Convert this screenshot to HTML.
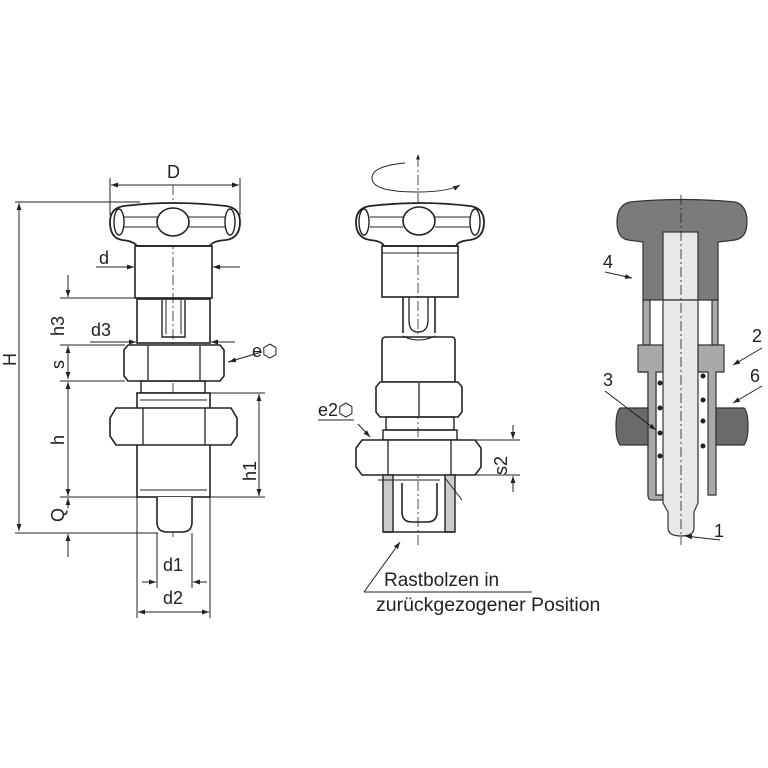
<!DOCTYPE html>
<html><head><meta charset="utf-8"><style>body{margin:0;background:#fff}svg{display:block}text{font-family:"Liberation Sans",sans-serif;fill:#222}</style></head><body>
<svg width="768" height="768" viewBox="0 0 768 768" xmlns="http://www.w3.org/2000/svg">
<defs>
<marker id="a" viewBox="0 0 10 10" refX="10" refY="5" markerWidth="7" markerHeight="7" orient="auto-start-reverse"><path d="M0,1.5 L10,5 L0,8.5 z" fill="#222"/></marker>
</defs>
<g stroke="#222" stroke-width="1" fill="none">
<line x1="173" y1="185" x2="173" y2="540" stroke-dasharray="10 3 2 3" stroke-width="0.8"/>
<line x1="110" y1="178" x2="110" y2="215"/><line x1="240" y1="178" x2="240" y2="215"/>
<line x1="111" y1="185" x2="239" y2="185" marker-start="url(#a)" marker-end="url(#a)"/>
<line x1="15" y1="202" x2="140" y2="202"/>
<line x1="19" y1="203" x2="19" y2="531" marker-start="url(#a)" marker-end="url(#a)"/>
<line x1="15" y1="533" x2="158" y2="533"/>
<path d="M124,206 Q173,200 226,206 Q240,208 240,222 Q240,238 226,240 Q212,241 210,246 L137,246 Q134,241 122,240 Q110,238 110,222 Q110,208 124,206 Z" stroke-width="1.8" fill="#fff"/>
<ellipse cx="173" cy="222" rx="16" ry="14" stroke-width="1.6"/>
<ellipse cx="119" cy="222" rx="5" ry="13" stroke-width="1.4"/><ellipse cx="230" cy="222" rx="5" ry="13" stroke-width="1.4"/>
<line x1="124" y1="217" x2="157" y2="217"/><line x1="189" y1="217" x2="225" y2="217"/>
<line x1="124" y1="227" x2="157" y2="227"/><line x1="189" y1="227" x2="225" y2="227"/>
<rect x="135" y="246" width="77" height="52" stroke-width="1.6"/>
<line x1="96" y1="267" x2="134" y2="267" marker-end="url(#a)"/><line x1="240" y1="267" x2="213" y2="267" marker-end="url(#a)"/>
<rect x="137" y="299" width="73" height="44" stroke-width="1.6"/>
<path d="M162,300 L162,337 L185,337 L185,300" stroke-width="1.4"/><line x1="166" y1="300" x2="166" y2="334"/><line x1="181" y1="300" x2="181" y2="334"/>
<line x1="60" y1="298" x2="137" y2="298"/>
<line x1="68" y1="275" x2="68" y2="297" marker-end="url(#a)"/>
<line x1="90" y1="342" x2="136" y2="342" marker-end="url(#a)"/><line x1="235" y1="342" x2="211" y2="342" marker-end="url(#a)"/>
<line x1="60" y1="345" x2="125" y2="345"/>
<line x1="68" y1="346" x2="68" y2="379" marker-start="url(#a)" marker-end="url(#a)"/>
<path d="M128,345 L220,345 L224,350 L224,376 L220,381 L128,381 L124,376 L124,350 Z" stroke-width="1.6" fill="#fff"/>
<line x1="148" y1="346" x2="148" y2="380" stroke-width="1.3"/><line x1="200" y1="346" x2="200" y2="380" stroke-width="1.3"/>
<line x1="60" y1="381" x2="125" y2="381"/>
<line x1="68" y1="382" x2="68" y2="496" marker-start="url(#a)" marker-end="url(#a)"/>
<line x1="228" y1="362" x2="262" y2="352"/><line x1="235" y1="360" x2="229" y2="362" marker-end="url(#a)"/>
<rect x="141" y="381" width="64" height="12" stroke-width="1.4"/>
<rect x="137" y="393" width="73" height="104" stroke-width="1.6" fill="#fff"/>
<line x1="140" y1="400" x2="207" y2="400"/><line x1="140" y1="490" x2="207" y2="490"/>
<path d="M116,408 L231,408 L237,418 L237,436 L231,445 L116,445 L110,436 L110,418 Z" stroke-width="1.6" fill="#fff"/>
<line x1="143" y1="408" x2="143" y2="445" stroke-width="1.3"/><line x1="205" y1="408" x2="205" y2="445" stroke-width="1.3"/>
<line x1="210" y1="393" x2="265" y2="393"/><line x1="210" y1="497" x2="265" y2="497"/>
<line x1="259" y1="394" x2="259" y2="496" marker-start="url(#a)" marker-end="url(#a)"/>
<line x1="60" y1="497" x2="137" y2="497"/>
<line x1="68" y1="508" x2="68" y2="498" marker-end="url(#a)"/><line x1="68" y1="557" x2="68" y2="534" marker-end="url(#a)"/>
<path d="M157,497 L157,522 Q157,532 167,532 L182,532 Q192,532 192,522 L192,497" stroke-width="1.6" fill="#fff"/>
<line x1="157" y1="533" x2="157" y2="588"/><line x1="192" y1="533" x2="192" y2="588"/>
<line x1="142" y1="582" x2="156" y2="582" marker-end="url(#a)"/><line x1="207" y1="582" x2="193" y2="582" marker-end="url(#a)"/>
<line x1="137" y1="497" x2="137" y2="618"/><line x1="210" y1="497" x2="210" y2="618"/>
<line x1="138" y1="612" x2="209" y2="612" marker-start="url(#a)" marker-end="url(#a)"/>

<line x1="418" y1="545" x2="418" y2="154" stroke-dasharray="10 3 2 3" stroke-width="0.8" marker-end="url(#a)"/>
<path d="M405,163 Q372,166 372,178 Q372,192 416,192 Q448,192 460,185" marker-end="url(#a)"/>
<path d="M370,206 Q420,200 470,206 Q484,208 484,222 Q484,238 470,240 Q458,241 456,246 L384,246 Q382,241 370,240 Q356,238 356,222 Q356,208 370,206 Z" stroke-width="1.8" fill="#fff"/>
<ellipse cx="419" cy="221" rx="16" ry="14" stroke-width="1.6"/>
<ellipse cx="364" cy="222" rx="5" ry="13" stroke-width="1.4"/><ellipse cx="475" cy="222" rx="5" ry="13" stroke-width="1.4"/>
<line x1="370" y1="217" x2="403" y2="217"/><line x1="435" y1="217" x2="470" y2="217"/>
<line x1="370" y1="227" x2="403" y2="227"/><line x1="435" y1="227" x2="470" y2="227"/>
<rect x="382" y="246" width="76" height="51" stroke-width="1.6"/>
<line x1="382" y1="253" x2="458" y2="253"/>
<path d="M403,297 L403,333 M435,297 L435,333" stroke-width="1.6"/>
<path d="M409,297 L409,320 Q409,332 418,332 Q428,332 428,320 L428,297" stroke-width="1.3"/>
<path d="M386,337 L452,337 Q455,337 455,341 L455,382 L382,382 L382,341 Q382,337 386,337 Z" stroke-width="1.6" fill="#fff"/>
<path d="M403,336 Q418,344 435,336"/>
<path d="M380,382 L458,382 L462,387 L462,412 L458,417 L380,417 L376,412 L376,387 Z" stroke-width="1.6" fill="#fff"/>
<line x1="419" y1="383" x2="419" y2="416" stroke-width="1.3"/>
<rect x="386" y="417" width="68" height="13" stroke-width="1.4"/>
<rect x="383" y="430" width="74" height="10" stroke-width="1.4"/>
<path d="M362,440 L475,440 L481,448 L481,467 L475,475 L362,475 L356,467 L356,448 Z" stroke-width="1.6" fill="#fff"/>
<line x1="388" y1="440" x2="388" y2="475" stroke-width="1.3"/><line x1="451" y1="440" x2="451" y2="475" stroke-width="1.3"/>
<rect x="383" y="475" width="10" height="57" fill="#ccc" stroke-width="1.4"/>
<rect x="445" y="475" width="10" height="57" fill="#ccc" stroke-width="1.4"/>
<line x1="383" y1="532" x2="455" y2="532" stroke-width="1.6"/>
<path d="M402,483 L402,512 Q402,522 412,522 L427,522 Q437,522 437,512 L437,483" stroke-width="1.6"/>
<line x1="378" y1="480" x2="440" y2="480"/><line x1="445" y1="478" x2="462" y2="500"/>
<line x1="455" y1="440" x2="520" y2="440"/><line x1="455" y1="475" x2="520" y2="475"/>
<line x1="513" y1="425" x2="513" y2="439" marker-end="url(#a)"/><line x1="513" y1="492" x2="513" y2="476" marker-end="url(#a)"/>
<line x1="318" y1="420" x2="354" y2="420"/><line x1="358" y1="424" x2="370" y2="437" marker-end="url(#a)"/>
<line x1="364" y1="592" x2="400" y2="542" marker-end="url(#a)"/><line x1="364" y1="592" x2="532" y2="592"/>
</g>
<g stroke="#333" stroke-width="1.2">
<path d="M630,202 Q681,197 735,202 Q747,205 747,222 Q747,238 735,240 L718,242 L718,300 L643,300 L643,242 L628,240 Q617,238 617,222 Q617,205 630,202 Z" fill="#7b7b7b"/>
<rect x="663" y="232" width="35" height="68" fill="#e8e8e8"/>
<path d="M643,300 L650,300 L650,345 L643,345 Z M712,300 L718,300 L718,345 L712,345 Z" fill="#a9a9a9"/>
<path d="M638,345 L663,345 L663,372 L656,372 L656,495 L648,495 L648,372 L638,372 Z" fill="#a9a9a9"/>
<path d="M724,345 L698,345 L698,372 L708,372 L708,495 L716,495 L716,372 L724,372 Z" fill="#a9a9a9"/>
<path d="M640,372 L648,372 L648,495 Q648,500 652,500 L663,500 L663,495 L656,495 L656,372" fill="#a9a9a9"/>
<path d="M620,408 L648,408 L648,445 L620,445 Q616,440 616,426 Q616,412 620,408 Z" fill="#6a6a6a"/>
<path d="M744,408 L716,408 L716,445 L744,445 Q748,440 748,426 Q748,412 744,408 Z" fill="#6a6a6a"/>
<path d="M663,300 L698,300 L698,503 L694,512 L694,528 Q694,536 681,536 Q668,536 668,528 L668,512 L663,503 Z" fill="#e8e8e8"/>
</g>
<g fill="#222">
<circle cx="660" cy="383" r="2.5"/><circle cx="660" cy="408" r="2.5"/><circle cx="660" cy="433" r="2.5"/><circle cx="660" cy="456" r="2.5"/>
<circle cx="703" cy="376" r="2.5"/><circle cx="703" cy="400" r="2.5"/><circle cx="703" cy="421" r="2.5"/><circle cx="703" cy="446" r="2.5"/>
</g>
<g stroke="#222" stroke-width="1" fill="none">
<line x1="681" y1="195" x2="681" y2="545" stroke-dasharray="10 3 2 3" stroke-width="0.8"/>
<line x1="605" y1="272" x2="632" y2="278" marker-end="url(#a)"/>
<line x1="762" y1="348" x2="733" y2="365" marker-end="url(#a)"/>
<line x1="762" y1="386" x2="733" y2="403" marker-end="url(#a)"/>
<line x1="605" y1="391" x2="656" y2="430" marker-end="url(#a)"/>
<line x1="720" y1="540" x2="685" y2="536" marker-end="url(#a)"/>
</g>
<g font-size="18">
<text x="167" y="178">D</text>
<text x="99" y="264">d</text>
<text x="91" y="336">d3</text>
<text x="252" y="357">e⬡</text>
<text x="163" y="571">d1</text>
<text x="163" y="604">d2</text>
<text transform="translate(16,366) rotate(-90)">H</text>
<text transform="translate(64,336) rotate(-90)">h3</text>
<text transform="translate(64,369) rotate(-90)">s</text>
<text transform="translate(64,445) rotate(-90)">h</text>
<text transform="translate(64,522) rotate(-90)">Q</text>
<text transform="translate(256,481) rotate(-90)">h1</text>
<text transform="translate(507,475) rotate(-90)">s2</text>
<text x="318" y="416">e2⬡</text>
<text x="384" y="586" font-size="19">Rastbolzen in</text>
<text x="376" y="611" font-size="19.5">zurückgezogener Position</text>
<text x="603" y="268">4</text>
<text x="752" y="342">2</text>
<text x="750" y="382">6</text>
<text x="603" y="386">3</text>
<text x="714" y="537">1</text>
</g>
</svg>
</body></html>
